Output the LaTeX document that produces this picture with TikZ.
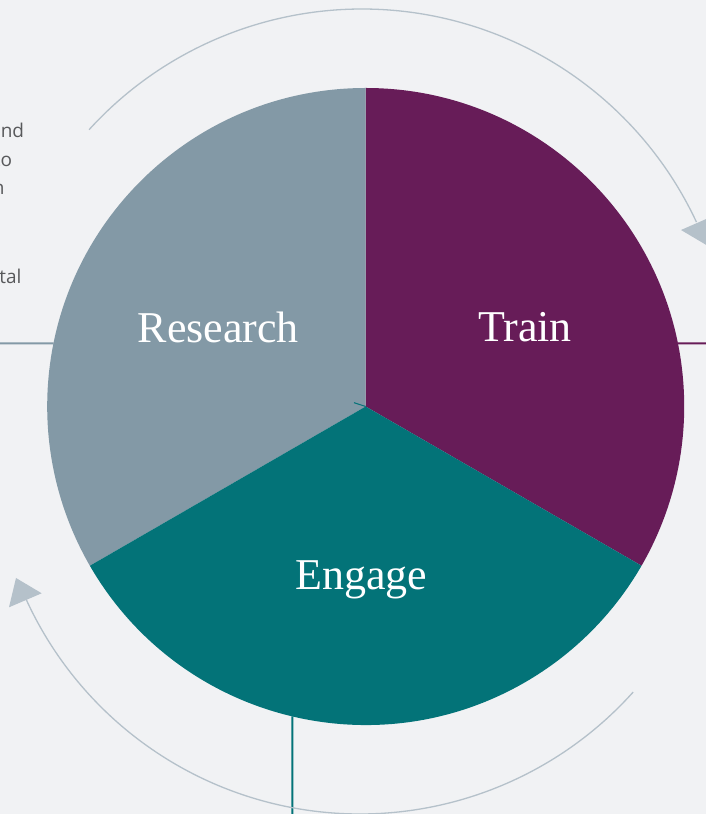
\documentclass[tikz,border=0pt]{standalone}
\usepackage{fontspec}
\usetikzlibrary{calc}
\setmainfont{Liberation Serif}
\newfontfamily\sidefont{Open Sans}
\definecolor{bgc}{HTML}{F1F2F4}
\definecolor{trainc}{HTML}{671C58}
\definecolor{engagec}{HTML}{037378}
\definecolor{researchc}{HTML}{8399A6}
\definecolor{arcc}{HTML}{B5C1CA}
\definecolor{sidetext}{HTML}{58595B}
\tikzset{
  sectorlabel/.style={text=white, anchor=base, inner sep=0pt, font=\fontsize{44}{44}\selectfont},
  sidelabel/.style={text=sidetext, anchor=base east, inner sep=0pt, font=\sidefont\fontsize{19}{19}\selectfont},
  cyclearc/.style={draw=arcc, line width=1.3pt},
  arrowhead/.style={fill=arcc},
  leadline/.style={line width=2pt}
}
\begin{document}
\begin{tikzpicture}[x=1pt,y=1pt]
\useasboundingbox (0,0) rectangle (706,814);
\clip (0,0) rectangle (706,814);
\fill[bgc] (0,0) rectangle (706,814);
\def\R{318.5}
\coordinate (c) at (365.7,407.5);
% sectors
\fill[trainc] (c) -- ++(90:\R) arc[start angle=90, end angle=-30, radius=\R] -- cycle;
\fill[researchc] (c) -- ++(90:\R) arc[start angle=90, end angle=210, radius=\R] -- cycle;
\fill[engagec] (c) -- ++(210:\R) arc[start angle=210, end angle=330, radius=\R] -- cycle;
% small stroke at centre
\coordinate (tick) at (354,411.3);
\draw[engagec, line width=1pt] (tick) -- (c);
% lead lines
\coordinate (pl) at ($(c)+(168.55:\R)$);
\coordinate (pr) at ($(c)+(11.45:\R)$);
\coordinate (pb) at ($(c)+(-103.32:\R)$);
\coordinate (el) at (0,470.7);
\coordinate (er) at (706,470.7);
\coordinate (eb) at (292.3,0);
\draw[leadline, researchc] (el) -- (pl);
\draw[leadline, trainc] (pr) -- (er);
\draw[leadline, engagec] (pb) -- (eb);
% cycle arcs
\coordinate (ta) at (362,436);
\coordinate (ba) at (360,367);
\draw[cyclearc] ($(ta)+(137.7:369)$) arc[start angle=137.7, end angle=25, radius=369];
\draw[cyclearc] ($(ba)+(-41.9:367)$) arc[start angle=-41.9, end angle=-155.4, radius=367];
\fill[arrowhead] (681,584) -- (708.5,596) -- (708,568) -- cycle;
\fill[arrowhead] (16,236) -- (41.7,220.7) -- (9,206.7) -- cycle;
% labels
\node[sectorlabel] (research) at (218.3,471.5) {Research};
\node[sectorlabel] (train) at (525,472) {Train};
\node[sectorlabel] (engage) at (361.5,224.7) {Engage};
% side text cut by the page edge
\node[sidelabel] (s1) at (24.3,676.7) {and};
\node[sidelabel] (s2) at (12.3,647.3) {to};
\node[sidelabel] (s3) at (4.7,619) {in};
\node[sidelabel] (s4) at (21.7,530.7) {vital};
\end{tikzpicture}
\end{document}
